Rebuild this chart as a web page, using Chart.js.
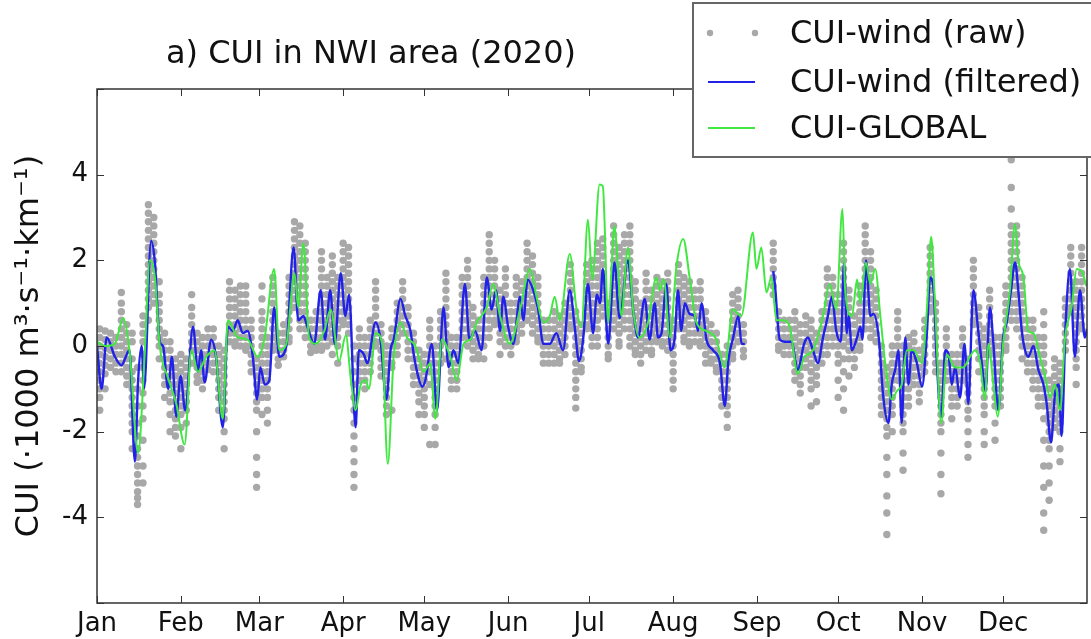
<!DOCTYPE html>
<html>
<head>
<meta charset="utf-8">
<script src="https://cdn.jsdelivr.net/npm/chart.js@4.4.1/dist/chart.umd.min.js"></script>
<style>
  html, body { margin: 0; padding: 0; background: #fff; }
  #cui-chart { display: block; }
</style>
</head>
<body>
<canvas id="cui-chart" width="1091" height="639"></canvas>
<script>
// x axis: day of year 2020 (0 = 1 Jan), ticks at first day of each month
const monthStarts = [0, 31, 60, 91, 121, 152, 182, 213, 244, 274, 305, 335];
const monthLabels = ["Jan", "Feb", "Mar", "Apr", "May", "Jun", "Jul", "Aug", "Sep", "Oct", "Nov", "Dec"];
const yTicks = [-6, -4, -2, 0, 2, 4, 6];

// CUI-wind (filtered), null = missing data
const blueDays = [0, 1.7, 3.6, 6.6, 9, 12, 14, 15.2, 16.5, 17.4, 20, 21.4, 23.2, 24.4, 26.3, 27.7, 29.3, 30.9, 32.6,
  35.5, 37.3, 38.5, 39.8, 42.2, 44, 46.5, 48.4, 50.2, 52, 53.9, 55.7, 57.6, 59.2, 60.4, 62, 63.7, 65.5, 67.4, 70,
  72.7, 74.4, 76.3, 77.8, 80.3, 82.7, 84.3, 86.2, 87.9, 90.1, 91.8, 93.2, 95.6, 96.8, 98.7, 99.9, 103, 104.8, 107,
  108.5, 109.7, 112.2, 114, 115.9, 117.1, 118.9, 120.2, 121.4, 123.8, 125.7, 128.1, 130, 131.8, 133.6, 136, 137.7,
  139.8, 142.2, 144.1, 145.9, 147.5, 149, 150.2, 152, 153.9, 156.4, 157.6, 159.2, 161.3, 163.1, 165, 167.4, 169.8,
  172.3, 174.8, 176.6, 178.2, 179.7, 181.5, 183.4, 184.8, 186, 187, 189, 191.3, 193.2, 196.3, 198.2, 200, 202.5,
  204.3, 206.2, 207.4, 208.7, 210.5, 212, 213.6, 214.8, 216, 217.3, 219.1, 221, 222.2, 223.5, 225.3, 227.8, 230.3,
  232.1, 233.4, 235.2, 237.1, 238.3, 239.5, 245, 250, 250.6, 252.4, 254.2, 256.7, 259.1, 261.4, 262.8, 264.7, 266.5,
  268.4, 270.2, 271.7, 273.3, 275, 276.2, 277.2, 277.9, 279.1, 281, 282.2, 283, 284.3, 285.9, 287.1, 289, 290.7,
  292.6, 293.8, 295.1, 296.3, 297.5, 298.8, 300, 301.2, 303.1, 305, 306.8, 308, 309.3, 310.5, 312.1, 313.6, 314.8,
  316, 317.2, 319.1, 320.7, 322.1, 324, 325.8, 327.1, 328.5, 330.1, 331.4, 333.2, 335, 336.3, 337.9, 339.4, 340.6,
  341.9, 343.1, 344.3, 346.2, 348, 349.9, 351.1, 352.7, 354.2, 355.6, 356.6, 358.1, 359.7, 361.5, 363.4, 365.2, 366];
const blueValues = [0, -1.0, 0.2, -0.25, -0.45, -0.1, -2.7, -0.8, 0, -1.0, 2.45, 1.95, 0.1, 0, -1.0, -0.25, -1.65, -0.7, -1.5,
  0.45, -0.6, -0.1, -0.85, 0.15, -0.25, -1.9, 0.45, 0.35, 0.6, 0.3, 0.35, -0.25, -1.25, -0.5, -0.9, -0.8, 0.9, -0.25, 0,
  2.3, 0.6, 0.7, 0.45, 0.05, 1.3, 0.15, 1.3, 0.05, 1.7, 0.7, 1.2, -1.9, -0.1, -0.2, -0.4, 0.55, 0.15, -1.25,
  -0.1, 0.15, 1.1, 0.7, 0.35, -0.2, -0.75, -0.95, -0.8, 0.05, -1.5, 0.9, -0.5, -0.1, -0.4, 1.45, 0.15,
  0.35, -0.1, 1.6, 0.85, 1.3, 0.35, 1.15, 0.45, 0.05, 1.15, 0.6, 1.55, 1.3, 0.85, 0.05, 0.05, 0.3,
  -0.1, 1.3, 0.45, -0.35, 0.15, 1.45, 0.3, 1.2, 1.0, 1.8, 0.05, 1.95, 0.65, 2.0, 0.85, 0.2, 1.1,
  0.15, 1.0, 0.2, 0.3, 1.45, -0.1, 0.2, 1.3, 0.35, 1.0, 0.75, 0.7, 0.35, 1.0, 0.15, -0.1, -0.4,
  -1.4, -0.35, 0.2, 0.7, 0.05, 0.05, null, 1.75, 1.45, 0.15, 0.1, 0.1, -0.55, 0.05, 0.2, -0.1, -0.4,
  0.2, 0.7, 1.15, 0.35, 0.1, 1.95, 0.3, 0.7, -0.1, 0.2, 0.45, 0.15, 2.0, 0.7, 0.75, 0.2, -1.2,
  -1.8, -0.9, -0.55, -0.1, -1.8, 0.2, -0.9, -0.1, -0.4, -0.95, 0.3, 1.6, 1.3, -0.4, -1.65, -0.1, -0.2,
  -0.9, -0.5, -1.2, 0.05, -1.35, 1.3, 0.35, -0.4, -1.05, 0.9, 0.05, -1.5, 0.2, 0.55, 1.3, 1.95, 1.3,
  0.35, -0.1, -0.25, 0, -0.55, -0.9, -1.35, -2.25, -1.1, -0.9, -2.1, 0.5, 1.8, -0.25, 1.3, 0.2, 0.4];

// CUI-GLOBAL
const greenDays = [0, 3, 6.6, 9.7, 12, 15.2, 17.7, 19.5, 21.4, 23.2, 26.3, 29.3, 32.4, 34.9, 37.3, 40.4, 43.4, 46.5,
  48.4, 52, 55.7, 59.4, 62, 65.5, 67.4, 70, 73, 74.4, 76.3, 78.4, 80.9, 84, 86.4, 89.5, 92, 93.8, 95.6, 97.5, 99.3,
  100.5, 103, 105.4, 107.5, 109.7, 112.2, 114.6, 117.7, 120.8, 123.2, 125.1, 127.5, 130.6, 133, 135.5, 138, 140.4,
  144.1, 146.5, 149, 152.6, 156.4, 160.1, 162.5, 165, 167.4, 169.2, 171.1, 174.8, 177.2, 179.1, 181.5, 183.1, 185.8,
  187, 189, 190, 191.3, 192.6, 193.8, 196.3, 198.2, 200.6, 203.7, 206.8, 208, 209.5, 211.8, 214.2, 216.7, 219.1,
  221.6, 225.3, 229, 232, 235.1, 238.2, 242.5, 243.8, 245.6, 247.5, 249.3, 251.2, 253.6, 256.1, 259.1, 261.6, 264.7,
  268.4, 270.8, 273.3, 275.6, 276.6, 279.1, 281, 282.2, 284.3, 285.9, 287.7, 289.6, 291.4, 293.8, 295.7, 297.5,
  299.4, 301.9, 305, 306.8, 308.4, 309.9, 312.1, 314.2, 317.2, 320.3, 322.7, 324.6, 326.4, 328.3, 329.5, 331.4, 333,
  335, 337.5, 339.4, 340.6, 342.5, 344.3, 346.2, 348.6, 350.5, 352.3, 354.2, 356, 357.9, 360.3, 362.2, 364, 365.8];
const greenValues = [0.1, 0, 0.05, 0.65, -0.1, -2.5, -0.1, 2.0, 1.6, 0, -0.75, -1.35, -2.3, -0.1, -0.6, -0.25, -0.1, -1.7,
  0.6, 0.2, 0.15, -0.25, 0.2, 1.8, -0.1, 0.05, 1.7, 0.9, 2.4, 0.2, 0.05, 0.35, 0.85, -0.35, 0.25, -0.75, -1.5, -0.9, -0.8,
  -1.0, 0.3, 0.05, -2.75, -0.25, 0.55, 0.2, 0, -0.6, -0.4, -1.7, 0.15, -0.25, -0.8, 0.05, 0.15, 0.55,
  0.9, 1.45, 0.7, 0.05, 0.85, 1.8, 1.15, 0.55, 0.7, 1.15, 0.6, 2.15, 0.9, 0.45, 2.95, 1.55, 3.77,
  3.73, 0.55, 1.55, 2.8, 1.85, 0.7, 2.3, 0.85, 0.2, 0.55, 1.6, 1.3, 1.55, 0.2, 1.85, 2.5, 1.6,
  0.55, 0.35, 0.15, -0.5, 0.85, 0.7, 2.65, 1.8, 2.3, 1.25, 1.6, 0.6, 0.6, 0.45, -0.65, -0.25, -0.1,
  0.7, 1.45, 0.85, 3.2, 1.3, 0.7, 1.55, 1.0, 1.95, 1.45, 1.8, 0.7, -0.4, -1.25, -1.05, -0.9,
  -0.1, -0.1, -0.4, 0.85, 2.55, 0.85, -1.8, -0.2, -0.5, -0.5, -0.25, -0.1, -0.35, -1.25, 0.05, -0.9, -1.65,
  0.05, 1.3, 2.85, 2.0, 1.6, 0.35, 0.3, -0.25, -0.7, -1.2, -0.9, -1.5, 0.2, 0.9, 1.8, 1.75, 1.4];

// CUI-wind (raw): the values seen for each day
const rawDays = [1, 3, 5, 7, 9, 11, 13, 15, 17, 19, 21, 23, 25, 27, 29, 31, 33, 35, 37, 39, 41, 43, 45, 47, 49, 51, 53,
  55, 57, 59, 61, 63, 65, 67, 69, 71, 73, 75, 77, 79, 81, 83, 85, 87, 89, 91, 93, 95, 97, 99, 101, 103, 105, 107,
  109, 111, 113, 115, 117, 119, 121, 123, 125, 127, 129, 131, 133, 135, 137, 139, 141, 143, 145, 147, 149, 151, 153,
  155, 157, 159, 161, 163, 165, 167, 169, 171, 173, 175, 177, 179, 181, 183, 185, 187, 189, 191, 193, 195, 197, 199,
  201, 203, 205, 207, 209, 211, 213, 215, 217, 219, 221, 223, 225, 227, 229, 231, 233, 235, 237, 239,
  250, 252, 254, 256, 258, 260, 262, 264, 266, 268, 270, 272, 274, 276, 278, 280, 282, 284, 286, 288, 290, 292,
  294, 296, 298, 300, 302, 304, 306, 308, 310, 312, 314, 316, 318, 320, 322, 324, 326, 328, 330, 332, 334, 336,
  338, 340, 342, 344, 346, 348, 350, 352, 354, 356, 358, 360, 362, 364];
const rawVals = [
  // Jan
  [0.4, 0.2, 0, -0.2, -0.4, -0.6, -0.8, -1.0, -1.2, -1.5],
  [0.35, 0.15, -0.05, -0.25, -0.45, -0.65, -1.0],
  [0.3, 0.1, -0.1, -0.3, -0.5],
  [0.2, 0, -0.2, -0.4, -0.6],
  [1.25, 1.0, 0.8, 0.6, 0.4, 0.2, 0, -0.2, -0.4, -0.6],
  [0.5, 0.3, 0.1, -0.1, -0.3, -0.5, -0.7, -0.9],
  [0.3, 0.1, -0.3, -0.6, -0.8, -1.0, -1.2, -1.4, -1.6, -1.8, -2.0, -2.4],
  [-0.5, -1.0, -1.4, -1.8, -2.1, -2.4, -2.6, -2.8, -3.0, -3.2, -3.4, -3.55, -3.7],
  [0.7, 0.5, 0.3, 0.1, -0.2, -0.5, -0.8, -1.1, -1.4, -1.7, -2.2, -2.8, -3.2],
  [3.3, 3.1, 2.9, 2.7, 2.5, 2.3, 2.1, 1.9, 1.7, 1.5, 1.3, 1.1, 0.9, 0.6],
  [3.0, 2.8, 2.6, 2.4, 2.2, 2.0, 1.8, 1.6, 1.4, 1.2, 1.0],
  [1.5, 1.2, 1.0, 0.8, 0.6, 0.4, 0.2, 0, -0.3],
  [0.3, 0.1, -0.1, -0.3, -0.5, -0.7, -0.9, -1.2],
  [0.1, -0.1, -0.3, -0.5, -0.7, -0.9, -1.1, -1.3, -1.6, -2.0],
  [-0.3, -0.5, -0.7, -0.9, -1.1, -1.3, -1.5, -1.7, -1.9, -2.1],
  [-0.2, -0.4, -0.6, -0.8, -1.0, -1.2, -1.4, -1.6, -1.9, -2.4],
  // Feb
  [-0.3, -0.5, -0.7, -0.9, -1.1, -1.3, -1.5, -1.8],
  [1.2, 0.9, 0.7, 0.5, 0.3, 0.1, -0.1, -0.4],
  [0.3, 0.1, -0.1, -0.3, -0.5, -0.7, -0.85],
  [0.2, 0, -0.2, -0.4, -0.6, -0.8, -1.0],
  [0.4, 0.2, 0, -0.2, -0.4, -0.55],
  [0.4, 0.2, 0, -0.2, -0.4, -0.6],
  [0, -0.2, -0.4, -0.6, -0.8, -1.0, -1.2, -1.5],
  [-0.1, -0.3, -0.5, -0.7, -0.9, -1.1, -1.3, -1.5, -1.7, -2.0, -2.4],
  [1.5, 1.3, 1.1, 0.9, 0.7, 0.5, 0.3, 0.1],
  [1.3, 1.1, 0.9, 0.7, 0.5, 0.3, 0.1, 0],
  [1.4, 1.2, 1.0, 0.8, 0.6, 0.4, 0.2, 0],
  [1.4, 1.2, 1.0, 0.8, 0.6, 0.4, 0.2, 0, -0.1],
  [0.6, 0.4, 0.2, 0, -0.2, -0.4, -0.6],
  [-0.3, -0.5, -0.7, -0.9, -1.1, -1.3, -1.5, -2.0, -2.6, -3.0, -3.3],
  // Mar
  [1.4, 1.1, 0.8, 0.6, 0.4, 0.2, 0, -0.2, -0.4, -0.6, -0.8, -1.0, -1.2, -1.6],
  [0.2, 0, -0.2, -0.4, -0.6, -0.8, -1.0, -1.2, -1.5, -1.8],
  [1.6, 1.4, 1.2, 1.0, 0.8, 0.6, 0.4, 0.2, 0, -0.1],
  [0.3, 0.1, -0.1, -0.3, -0.45],
  [0.5, 0.3, 0.1, -0.1, -0.25],
  [1.6, 1.4, 1.2, 1.0, 0.8, 0.6, 0.4, 0.2, 0.1],
  [2.9, 2.7, 2.5, 2.3, 2.1, 1.9, 1.7, 1.5, 1.3, 1.1, 0.9],
  [2.8, 2.6, 2.4, 2.2, 2.0, 1.8, 1.6, 1.4, 1.2, 1.0, 0.8, 0.6, 0.4],
  [2.4, 2.2, 2.0, 1.8, 1.6, 1.4, 1.2, 1.0, 0.8, 0.6, 0.4, 0.2],
  [0.6, 0.4, 0.2, 0, -0.15],
  [0.8, 0.6, 0.4, 0.2, 0, -0.1],
  [2.2, 2.0, 1.8, 1.6, 1.4, 1.2, 1.0, 0.8, 0.6, 0.4, 0.2, 0, -0.1],
  [1.6, 1.4, 1.2, 1.0, 0.8, 0.6, 0.4, 0.2, 0],
  [2.1, 1.9, 1.7, 1.5, 1.3, 1.1, 0.9, 0.7, 0.5, 0.3, 0.1, -0.2],
  [1.6, 1.4, 1.2, 1.0, 0.8, 0.6, 0.4, 0.2, 0, -0.4],
  // Apr
  [2.4, 2.2, 2.0, 1.8, 1.6, 1.4, 1.2, 1.0, 0.8, 0.6, 0.5],
  [2.3, 2.1, 1.9, 1.7, 1.5, 1.3, 1.1, 0.9, 0.7, 0.5, 0.3],
  [0, -0.3, -0.6, -0.9, -1.2, -1.5, -1.8, -2.1, -2.4, -2.7, -3.0, -3.3],
  [0.4, 0.2, 0, -0.2, -0.4, -0.6, -0.8],
  [0.2, 0, -0.2, -0.4, -0.6, -0.8, -1.0],
  [0.6, 0.4, 0.2, 0, -0.2, -0.4, -0.6],
  [1.5, 1.3, 1.1, 0.9, 0.7, 0.5, 0.3, 0.1, 0],
  [0.5, 0.3, 0.1, -0.1, -0.3, -0.5, -0.7],
  [0, -0.2, -0.4, -0.6, -0.8, -1.0, -1.2, -1.4, -1.6],
  [0.4, 0.2, 0, -0.2, -0.4, -0.5, -1.5],
  [1.0, 0.8, 0.6, 0.4, 0.2, 0, -0.2],
  [1.5, 1.3, 1.1, 0.9, 0.7, 0.5, 0.3],
  [0.9, 0.7, 0.5, 0.3, 0.1, -0.1, -0.3],
  [0.3, 0.1, -0.1, -0.3, -0.5, -0.7, -0.9],
  [-0.1, -0.3, -0.5, -0.7, -0.9, -1.1, -1.3, -1.6],
  // May
  [-0.2, -0.4, -0.6, -0.8, -1.0, -1.2, -1.4, -1.6, -1.9],
  [0.6, 0.4, 0.2, 0, -0.2, -0.4, -0.6, -0.9, -2.3],
  [0, -0.2, -0.4, -0.6, -0.8, -1.0, -1.2, -1.4, -1.6, -1.9, -2.3],
  [0.8, 0.6, 0.4, 0.2, 0, -0.2, -0.4],
  [1.7, 1.5, 1.3, 1.1, 0.9, 0.7, 0.5, 0.3, 0.1, -0.3],
  [0.2, 0, -0.2, -0.4, -0.6, -0.8, -1.0],
  [0.2, 0, -0.2, -0.4, -0.6, -0.8, -1.0],
  [1.6, 1.4, 1.2, 1.0, 0.8, 0.6, 0.4, 0.2],
  [2.0, 1.8, 1.6, 1.4, 1.2, 1.0, 0.8, 0.6, 0.4, 0.2, 0],
  [0.9, 0.7, 0.5, 0.3, 0.1, -0.1, -0.3],
  [0.6, 0.4, 0.2, 0, -0.2, -0.3],
  [1.6, 1.4, 1.2, 1.0, 0.8, 0.6, 0.4, 0.2, 0, -0.3],
  [2.6, 2.4, 2.2, 2.0, 1.8, 1.6, 1.4, 1.2, 1.0, 0.8, 0.6, 0.4, 0.2],
  [2.0, 1.8, 1.6, 1.4, 1.2, 1.0, 0.8, 0.6, 0.5],
  [1.3, 1.1, 0.9, 0.7, 0.5, 0.3, 0.1, -0.2],
  [1.8, 1.6, 1.4, 1.2, 1.0, 0.8, 0.6, 0.4, 0.2, 0],
  // Jun
  [1.0, 0.8, 0.6, 0.4, 0.2, 0, -0.2],
  [1.6, 1.4, 1.2, 1.0, 0.8, 0.6, 0.4, 0.2, 0.1],
  [1.5, 1.3, 1.1, 0.9, 0.7, 0.5, 0.3],
  [2.4, 2.2, 2.0, 1.8, 1.6, 1.4, 1.2, 1.0, 0.8, 0.6],
  [2.1, 1.9, 1.7, 1.5, 1.3, 1.1, 0.9, 0.7, 0.5, 0.3],
  [1.6, 1.4, 1.2, 1.0, 0.8, 0.6, 0.4, 0.2, 0.1],
  [0.6, 0.4, 0.2, 0, -0.2, -0.4],
  [0.6, 0.4, 0.2, 0, -0.2, -0.4],
  [0.8, 0.6, 0.4, 0.2, 0, -0.2, -0.4],
  [0.7, 0.5, 0.3, 0.1, -0.1, -0.3, -0.4],
  [1.0, 0.8, 0.6, 0.4, 0.2, 0, -0.2],
  [1.9, 1.7, 1.5, 1.3, 1.1, 0.9, 0.7, 0.5, 0.4],
  [0.8, 0.6, 0.4, 0.2, 0, -0.2, -0.4, -0.6, -0.8, -1.0, -1.2, -1.45],
  [0.5, 0.3, 0.1, -0.1, -0.3, -0.5, -0.6],
  [1.9, 1.7, 1.5, 1.3, 1.1, 0.9, 0.7, 0.5, 0.4],
  // Jul
  [2.0, 1.8, 1.6, 1.4, 1.2, 1.0, 0.8, 0.6, 0.4, 0.2, 0],
  [2.4, 2.2, 2.0, 1.8, 1.6, 1.4, 1.2, 1.0, 0.8, 0.6, 0.4, 0.2, 0],
  [2.5, 2.3, 2.1, 1.9, 1.7, 1.5, 1.3, 1.1, 0.9, 0.7],
  [1.0, 0.8, 0.6, 0.4, 0.2, 0, -0.2, -0.3],
  [2.8, 2.6, 2.4, 2.2, 2.0, 1.8, 1.6, 1.4, 1.2, 1.0, 0.8, 0.6, 0.4],
  [2.3, 2.1, 1.9, 1.7, 1.5, 1.3, 1.1, 0.9, 0.7, 0.5, 0.3, 0.1, 0],
  [2.6, 2.4, 2.2, 2.0, 1.8, 1.6, 1.4, 1.2, 1.0, 0.8, 0.6, 0.4],
  [2.8, 2.6, 2.4, 2.2, 2.0, 1.8, 1.6, 1.4, 1.2, 1.0, 0.8, 0.6, 0.4, 0.2, 0],
  [1.5, 1.3, 1.1, 0.9, 0.7, 0.5, 0.3, 0.1, -0.1, -0.2],
  [1.0, 0.8, 0.6, 0.4, 0.2, 0, -0.2, -0.4],
  [1.7, 1.5, 1.3, 1.1, 0.9, 0.7, 0.5, 0.3, 0.1, -0.1],
  [1.3, 1.1, 0.9, 0.7, 0.5, 0.3, 0.1, -0.1, -0.2],
  [1.6, 1.4, 1.2, 1.0, 0.8, 0.6, 0.4, 0.2, 0.1],
  [1.5, 1.3, 1.1, 0.9, 0.7, 0.5, 0.3, 0.1, 0],
  [1.7, 1.5, 1.3, 1.1, 0.9, 0.7, 0.5, 0.3, 0.1, -0.1],
  [0.6, 0.4, 0.2, 0, -0.2, -0.4, -0.6, -0.8, -1.0],
  // Aug
  [1.9, 1.7, 1.5, 1.3, 1.1, 0.9, 0.7, 0.5, 0.4],
  [1.6, 1.4, 1.2, 1.0, 0.8, 0.6, 0.4, 0.2, 0.1],
  [1.5, 1.3, 1.1, 0.9, 0.7, 0.5, 0.3, 0.1, 0],
  [1.3, 1.1, 0.9, 0.7, 0.5, 0.3, 0.1],
  [1.5, 1.3, 1.1, 0.9, 0.7, 0.5, 0.3, 0.1, 0],
  [0.8, 0.6, 0.4, 0.2, 0, -0.2, -0.4],
  [0.5, 0.3, 0.1, -0.1, -0.3, -0.4],
  [0.3, 0.1, -0.1, -0.3, -0.5, -0.6],
  [-0.2, -0.4, -0.6, -0.8, -1.0, -1.2, -1.4],
  [0, -0.2, -0.4, -0.6, -0.8, -1.0, -1.2, -1.4, -1.6, -1.9],
  [1.2, 1.0, 0.8, 0.6, 0.4, 0.2, 0, -0.2, -0.3],
  [1.3, 1.1, 0.9, 0.7, 0.5, 0.3, 0.1],
  [0.5, 0.3, 0.1, -0.1, -0.25],
  // Sep
  [2.4, 2.2, 2.0, 1.8, 1.6, 1.4, 1.2],
  [0.8, 0.6, 0.4, 0.2, 0, -0.1],
  [0.6, 0.4, 0.2, 0, -0.2],
  [0.6, 0.4, 0.2, 0, -0.2],
  [0.8, 0.6, 0.4, 0.2, 0, -0.2, -0.4, -0.6, -0.8],
  [0.5, 0.3, 0.1, -0.1, -0.3, -0.5, -0.7, -0.9, -1.1],
  [0.7, 0.5, 0.3, 0.1, -0.1, -0.3, -0.5],
  [0.6, 0.4, 0.2, 0, -0.2, -0.4, -0.6, -0.8, -1.0, -1.4],
  [0.3, 0.1, -0.1, -0.3, -0.5, -0.7, -0.9, -1.3],
  [0.8, 0.6, 0.4, 0.2, 0, -0.2, -0.4],
  [1.8, 1.6, 1.4, 1.2, 1.0, 0.8, 0.6, 0.4, 0.2, 0, -0.2],
  [1.6, 1.4, 1.2, 1.0, 0.8, 0.6, 0.4, 0.2, 0],
  [1.2, 1.0, 0.8, 0.6, 0.4, 0.2, 0, -0.2, -0.4, -0.8, -1.2],
  // Oct
  [2.4, 2.2, 2.0, 1.8, 1.6, 1.4, 1.2, 1.0, 0.8, 0.6, 0.4, 0.2, 0, -0.3, -0.6, -1.0, -1.5],
  [1.3, 1.1, 0.9, 0.7, 0.5, 0.3, 0.1, -0.1, -0.3, -0.7],
  [0.7, 0.5, 0.3, 0.1, -0.1, -0.3, -0.5],
  [1.4, 1.2, 1.0, 0.8, 0.6, 0.4, 0.2, 0, -0.1],
  [2.8, 2.6, 2.4, 2.2, 2.0, 1.8, 1.6, 1.4, 1.2, 1.0, 0.8, 0.6, 0.4],
  [2.2, 2.0, 1.8, 1.6, 1.4, 1.2, 1.0, 0.8, 0.6, 0.4, 0.2],
  [1.3, 1.1, 0.9, 0.7, 0.5, 0.3, 0.1],
  [0, -0.2, -0.4, -0.6, -0.8, -1.0, -1.2, -1.4, -1.6],
  [-0.5, -0.7, -0.9, -1.1, -1.3, -1.5, -1.7, -1.9, -2.1, -2.6, -3.0, -3.5, -3.9, -4.4],
  [0, -0.2, -0.4, -0.6, -0.8, -1.0, -1.2, -1.4, -1.6, -2.0],
  [0.8, 0.6, 0.4, 0.2, 0, -0.2, -0.4, -0.6, -0.8],
  [0, -0.2, -0.4, -0.6, -0.8, -1.0, -1.2, -1.4, -1.6, -1.8, -2.0, -2.5, -2.9],
  [0.2, 0, -0.2, -0.4, -0.6, -0.8, -1.0, -1.2, -1.4],
  [0.3, 0.1, -0.1, -0.3, -0.5, -0.7, -0.9],
  [-0.1, -0.3, -0.5, -0.7, -0.9, -1.1, -1.3],
  // Nov
  [0.6, 0.4, 0.2, 0, -0.2, -0.4, -0.6],
  [2.3, 2.1, 1.9, 1.7, 1.5, 1.3, 1.1, 0.9, 0.8],
  [1.0, 0.8, 0.6, 0.4, 0.2, 0, -0.2, -0.4, -0.6],
  [-0.4, -0.6, -0.8, -1.0, -1.2, -1.4, -1.6, -1.8, -2.0, -2.5, -3.0, -3.45],
  [0.4, 0.2, 0, -0.2, -0.4, -0.6, -0.8],
  [-0.2, -0.4, -0.6, -0.8, -1.0, -1.2, -1.4, -1.7],
  [-0.2, -0.4, -0.6, -0.8, -1.0, -1.2, -1.4],
  [0.4, 0.2, 0, -0.2, -0.4, -0.6, -0.8],
  [-0.3, -0.5, -0.7, -0.9, -1.1, -1.3, -1.5, -1.7, -2.0, -2.3, -2.6],
  [2.0, 1.8, 1.6, 1.4, 1.2, 1.0, 0.8, 0.6, 0.5],
  [0.9, 0.7, 0.5, 0.3, 0.1, -0.1, -0.3, -0.6],
  [0.4, 0.2, 0, -0.2, -0.4, -0.6, -0.8, -1.0, -1.2, -1.4, -1.6, -2.0, -2.3],
  [1.3, 1.1, 0.9, 0.7, 0.5, 0.3, 0.1, -0.1, -0.2],
  [0.2, 0, -0.2, -0.4, -0.6, -0.8, -1.0, -1.2, -1.4, -1.8, -2.2],
  [0.2, 0, -0.2, -0.4, -0.6, -0.8, -1.0, -1.2, -1.4],
  // Dec
  [1.4, 1.2, 1.0, 0.8, 0.6, 0.4, 0.2, 0, -0.1],
  [4.35, 3.7, 3.2, 2.8, 2.6, 2.4, 2.2, 2.0, 1.8, 1.6, 1.4, 1.2, 1.0, 0.8, 0.6],
  [2.8, 2.6, 2.4, 2.2, 2.0, 1.8, 1.6, 1.4, 1.2, 1.0, 0.8, 0.6, 0.4],
  [1.6, 1.4, 1.2, 1.0, 0.8, 0.6, 0.4, 0.2, 0, -0.3],
  [0.6, 0.4, 0.2, 0, -0.2, -0.4, -0.6],
  [0.6, 0.4, 0.2, 0, -0.2, -0.4, -0.6, -0.8, -1.0],
  [0.2, 0, -0.2, -0.4, -0.6, -0.8, -1.0, -1.2, -1.4],
  [0.8, 0.5, 0.2, 0, -0.2, -0.4, -0.6, -0.8, -1.0, -1.2, -1.4, -1.7, -2.2, -2.8, -3.3, -3.9, -4.3],
  [-0.8, -1.0, -1.2, -1.4, -1.6, -1.8, -2.0, -2.2, -2.4, -2.8, -3.2, -3.6],
  [-0.3, -0.5, -0.7, -0.9, -1.1, -1.3, -1.5, -1.7, -1.9],
  [-0.4, -0.6, -0.8, -1.0, -1.2, -1.4, -1.6, -1.8, -2.0, -2.4, -2.7],
  [1.1, 0.9, 0.7, 0.5, 0.3, 0.1, -0.1],
  [2.3, 2.1, 1.9, 1.7, 1.5, 1.3, 1.1, 0.9, 0.8],
  [1.5, 1.3, 1.1, 0.9, 0.7, 0.5, 0.3, 0.1, -0.1, -0.3, -0.5, -0.9],
  [2.3, 2.1, 1.9, 1.7, 1.5, 1.3, 1.1, 0.9, 0.7, 0.5, 0.4]
];

const FONT = "'DejaVu Sans', 'Liberation Sans', sans-serif";
const BLUE = "#2121ea";
const GREEN = "#40e840";
const GREY = "#a8a8a8";

const toPoints = (xs, ys) => xs.map((x, i) => ({ x: x, y: ys[i] }));
const rawPoints = [];
rawDays.forEach((d, i) => (rawVals[i] || []).forEach(v => rawPoints.push({ x: d, y: v })));

// frame, inward ticks, title and legend box (matplotlib look)
const decor = {
  id: "decor",
  afterDraw(chart) {
    const { ctx, chartArea: a, scales } = chart;
    ctx.save();
    ctx.strokeStyle = "#333";
    ctx.lineWidth = 1.5;
    ctx.strokeRect(a.left, a.top, a.right - a.left, a.bottom - a.top);
    ctx.lineWidth = 1;
    ctx.beginPath();
    monthStarts.forEach(v => {
      const x = Math.round(scales.x.getPixelForValue(v)) + 0.5;
      ctx.moveTo(x, a.bottom); ctx.lineTo(x, a.bottom - 7);
      ctx.moveTo(x, a.top); ctx.lineTo(x, a.top + 7);
    });
    yTicks.forEach(v => {
      const y = Math.round(scales.y.getPixelForValue(v)) + 0.5;
      ctx.moveTo(a.left, y); ctx.lineTo(a.left + 7, y);
      ctx.moveTo(a.right, y); ctx.lineTo(a.right - 7, y);
    });
    ctx.stroke();

    ctx.fillStyle = "#111";
    ctx.font = "32px " + FONT;
    ctx.textAlign = "center";
    ctx.textBaseline = "alphabetic";
    ctx.fillText("a) CUI in NWI area (2020)", 371, 63);

    // legend
    ctx.fillStyle = "#fff";
    ctx.fillRect(693, 3, 410, 154);
    ctx.strokeStyle = "#666";
    ctx.lineWidth = 2;
    ctx.strokeRect(693, 3, 410, 154);
    ctx.fillStyle = GREY;
    [710, 755].forEach(x => { ctx.beginPath(); ctx.arc(x, 33, 3.2, 0, Math.PI * 2); ctx.fill(); });
    ctx.lineWidth = 2;
    ctx.strokeStyle = BLUE;
    ctx.beginPath(); ctx.moveTo(708, 82); ctx.lineTo(755, 82); ctx.stroke();
    ctx.strokeStyle = GREEN;
    ctx.beginPath(); ctx.moveTo(708, 128); ctx.lineTo(755, 128); ctx.stroke();
    ctx.fillStyle = "#111";
    ctx.textAlign = "left";
    ctx.fillText("CUI-wind (raw)", 790, 43);
    ctx.fillText("CUI-wind (filtered)", 790, 92);
    ctx.fillText("CUI-GLOBAL", 790, 138);
    ctx.restore();
  }
};

new Chart(document.getElementById("cui-chart"), {
  type: "scatter",
  data: {
    datasets: [
      {
        label: "CUI-GLOBAL",
        data: toPoints(greenDays, greenValues),
        showLine: true,
        borderColor: GREEN,
        borderWidth: 2,
        pointRadius: 0,
        cubicInterpolationMode: "monotone",
        order: 1,
      },
      {
        label: "CUI-wind (filtered)",
        data: toPoints(blueDays, blueValues),
        showLine: true,
        spanGaps: false,
        borderColor: BLUE,
        borderWidth: 2.4,
        pointRadius: 0,
        cubicInterpolationMode: "monotone",
        order: 2,
      },
      {
        label: "CUI-wind (raw)",
        data: rawPoints,
        backgroundColor: GREY,
        borderWidth: 0,
        pointRadius: 3.7,
        order: 3,
      },
    ],
  },
  options: {
    responsive: false,
    animation: false,
    devicePixelRatio: 1,
    layout: { padding: { top: 89, right: 1, bottom: 0, left: 0 } },
    plugins: {
      legend: { display: false },
      tooltip: { enabled: false },
      title: { display: false },
    },
    scales: {
      x: {
        type: "linear",
        min: 0,
        max: 366,
        grid: { display: false, drawTicks: false },
        border: { display: false },
        afterBuildTicks(scale) { scale.ticks = monthStarts.map(v => ({ value: v })); },
        afterFit(scale) { scale.height = 36; },
        ticks: {
          autoSkip: false,
          maxRotation: 0,
          padding: 6,
          color: "#111",
          font: { family: FONT, size: 26 },
          callback: (v, i) => monthLabels[i],
        },
      },
      y: {
        min: -6,
        max: 6,
        grid: { display: false, drawTicks: false },
        border: { display: false },
        afterBuildTicks(scale) { scale.ticks = yTicks.map(v => ({ value: v })); },
        afterFit(scale) { scale.width = 97; },
        ticks: {
          padding: 9,
          color: "#111",
          font: { family: FONT, size: 26 },
          callback: v => (Math.abs(v) === 6 ? "" : String(v)),
        },
        title: {
          display: true,
          text: "CUI (·1000 m³·s⁻¹·km⁻¹)",
          color: "#111",
          font: { family: FONT, size: 32 },
          padding: { top: 10, bottom: 0 },
        },
      },
    },
  },
  plugins: [decor],
});
</script>
</body>
</html>
